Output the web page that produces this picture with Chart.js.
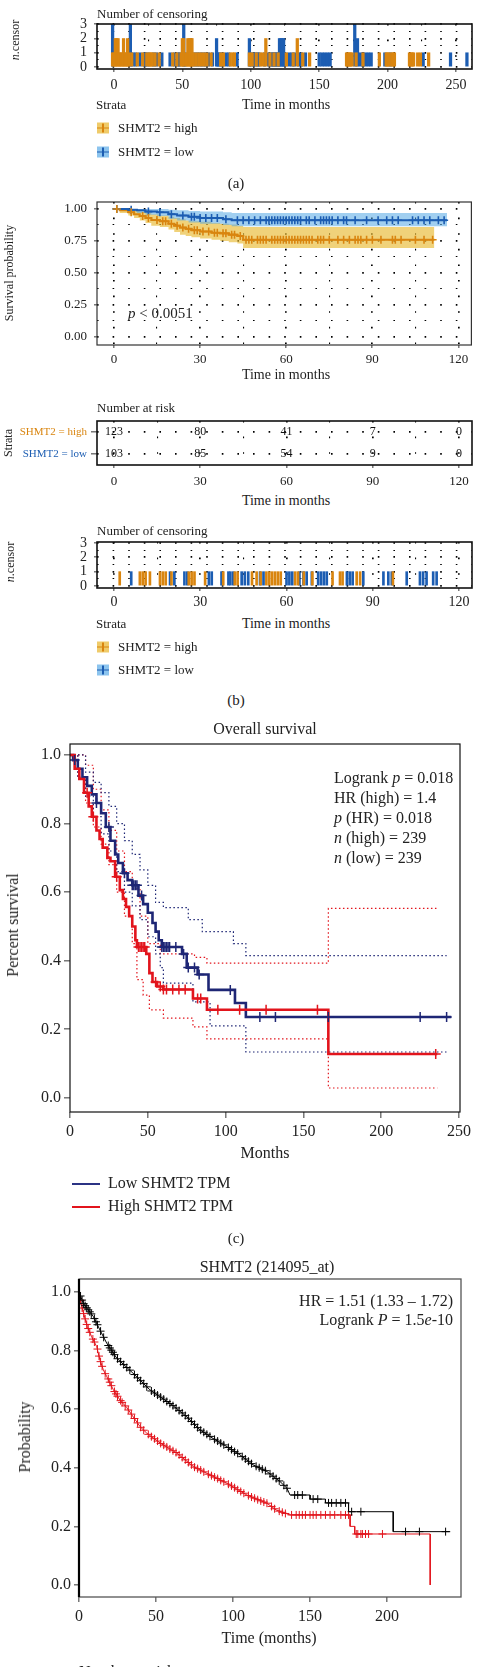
<!DOCTYPE html>
<html>
<head>
<meta charset="utf-8">
<script src="https://cdn.jsdelivr.net/npm/chart.js@4.4.1/dist/chart.umd.min.js"></script>
<style>
body { margin: 0; background: #fff; }
#page { position: relative; width: 477px; height: 1667px; overflow: hidden; font-family: 'Liberation Serif', 'DejaVu Serif', serif; color: #222; }
canvas { position: absolute; left: 0; }
.t { position: absolute; white-space: nowrap; transform: translateY(-50%); }
.c { transform: translate(-50%, -50%); }
.r { transform: translate(-100%, -50%); }
.v { transform: translate(-50%, -50%) rotate(-90deg); }
.sym { position: absolute; width: 12px; height: 11px; transform: translateY(-50%); }
.sym i { position: absolute; left: 0; right: 0; top: 4.5px; height: 1.6px; }
.sym b { position: absolute; left: 5px; width: 1.6px; top: 1px; bottom: 1px; }
.ln { position: absolute; height: 1.6px; width: 28px; }
</style>
</head>
<body>
<div id="page">
  <canvas id="cA"></canvas>
  <canvas id="c2"></canvas>
  <canvas id="c3"></canvas>
  <canvas id="cB"></canvas>
  <canvas id="c5"></canvas>
  <canvas id="c6"></canvas>

  <!-- (a) censoring -->
  <div class="t" style="left:97px;top:14px;font-size:13px">Number of censoring</div>
  <div class="t v" style="left:15px;top:40px;font-size:12px"><i>n</i>.censor</div>
  <div class="t" style="left:96px;top:105px;font-size:13px">Strata</div>
  <div class="t c" style="left:286px;top:105px;font-size:14px">Time in months</div>
  <div class="sym" style="left:97px;top:128px;background:#EFCB6A"><i style="background:#D9850F"></i><b style="background:#D9850F"></b></div>
  <div class="t" style="left:118px;top:128px;font-size:13px">SHMT2 = high</div>
  <div class="sym" style="left:97px;top:152px;background:#8CC4EE"><i style="background:#1C5DB2"></i><b style="background:#1C5DB2"></b></div>
  <div class="t" style="left:118px;top:152px;font-size:13px">SHMT2 = low</div>
  <div class="t c" style="left:236px;top:183px;font-size:15px">(a)</div>

  <!-- survival -->
  <div class="t v" style="left:9px;top:273px;font-size:12px">Survival probability</div>
  <div class="t" style="left:128px;top:313px;font-size:15px"><i>p</i> &lt; 0.0051</div>
  <div class="t c" style="left:286px;top:375px;font-size:14px">Time in months</div>

  <!-- number at risk -->
  <div class="t" style="left:97px;top:408px;font-size:13px">Number at risk</div>
  <div class="t v" style="left:8px;top:443px;font-size:12px">Strata</div>
  <div class="t c" style="left:286px;top:501px;font-size:14px">Time in months</div>

  <!-- (b) censoring -->
  <div class="t" style="left:97px;top:531px;font-size:13px">Number of censoring</div>
  <div class="t v" style="left:10px;top:562px;font-size:12px"><i>n</i>.censor</div>
  <div class="t" style="left:96px;top:624px;font-size:13px">Strata</div>
  <div class="t c" style="left:286px;top:624px;font-size:14px">Time in months</div>
  <div class="sym" style="left:97px;top:647px;background:#EFCB6A"><i style="background:#D9850F"></i><b style="background:#D9850F"></b></div>
  <div class="t" style="left:118px;top:647px;font-size:13px">SHMT2 = high</div>
  <div class="sym" style="left:97px;top:670px;background:#8CC4EE"><i style="background:#1C5DB2"></i><b style="background:#1C5DB2"></b></div>
  <div class="t" style="left:118px;top:670px;font-size:13px">SHMT2 = low</div>
  <div class="t c" style="left:236px;top:700px;font-size:15px">(b)</div>

  <!-- (c) overall survival -->
  <div class="t c" style="left:265px;top:729px;font-size:16px">Overall survival</div>
  <div class="t v" style="left:13px;top:925px;font-size:16px">Percent survival</div>
  <div class="t" style="left:334px;top:778px;font-size:16px">Logrank <i>p</i> = 0.018</div>
  <div class="t" style="left:334px;top:798px;font-size:16px">HR (high) = 1.4</div>
  <div class="t" style="left:334px;top:818px;font-size:16px"><i>p</i> (HR) = 0.018</div>
  <div class="t" style="left:334px;top:838px;font-size:16px"><i>n</i> (high) = 239</div>
  <div class="t" style="left:334px;top:858px;font-size:16px"><i>n</i> (low) = 239</div>
  <div class="t c" style="left:265px;top:1153px;font-size:16px">Months</div>
  <div class="ln" style="left:72px;top:1183px;background:#2B3384"></div>
  <div class="t" style="left:108px;top:1183px;font-size:16px">Low SHMT2 TPM</div>
  <div class="ln" style="left:72px;top:1206px;background:#E2141C"></div>
  <div class="t" style="left:108px;top:1206px;font-size:16px">High SHMT2 TPM</div>
  <div class="t c" style="left:236px;top:1238px;font-size:15px">(c)</div>

  <!-- (d) KM plotter -->
  <div class="t c" style="left:267px;top:1267px;font-size:16px">SHMT2 (214095_at)</div>
  <div class="t v" style="left:25px;top:1437px;font-size:16px">Probability</div>
  <div class="t r" style="left:453px;top:1301px;font-size:16px">HR = 1.51 (1.33 – 1.72)</div>
  <div class="t r" style="left:453px;top:1320px;font-size:16px">Logrank <i>P</i> = 1.5<i>e</i>-10</div>
  <div class="t c" style="left:269px;top:1638px;font-size:16px">Time (months)</div>
  <div class="t" style="left:79px;top:1672px;font-size:16px">Number at risk</div>
</div>

<script>
// ---------- data ----------
// (a) number of censoring, [month, count]
const censAHigh = [[-1,1],[0,1],[1,2],[2,2],[3,2],[4,1],[5,1],[6,1],[7,2],[8,1],[9,1],[10,2],[11,1],[13,1],[17,1],[21,1],[24,1],[26,1],[27,1],[28,1],[30,1],[33,1],[43,1],[46,1],[49,1],[50,2],[51,2],[53,1],[54,2],[55,2],[56,2],[57,2],[58,1],[60,1],[62,1],[64,1],[66,1],[68,1],[71,1],[78,1],[80,1],[85,1],[87,1],[88,1],[99,1],[101,1],[104,1],[107,1],[109,1],[111,2],[114,1],[117,1],[120,1],[126,1],[131,1],[134,2],[138,1],[143,1],[170,1],[171,1],[172,1],[173,1],[174,1],[177,1],[182,1],[194,1],[199,1],[200,1],[201,1],[203,1],[204,1],[205,1],[216,1],[217,1],[218,1],[219,1],[222,1],[224,1],[230,1]];
const censALow = [[-1,3],[12,3],[14,1],[16,1],[19,1],[22,1],[23,1],[25,1],[29,1],[31,1],[35,1],[41,1],[44,1],[47,1],[48,1],[51,3],[52,1],[59,1],[61,1],[63,1],[65,1],[67,1],[69,1],[72,1],[75,2],[76,1],[77,1],[79,1],[82,1],[84,1],[90,1],[99,2],[100,1],[102,1],[103,1],[105,1],[106,1],[110,1],[113,1],[115,1],[116,1],[117,1],[118,1],[119,1],[120,1],[121,2],[122,2],[123,2],[124,2],[125,1],[128,1],[130,1],[132,1],[135,1],[137,1],[140,1],[150,1],[152,1],[154,1],[156,1],[158,1],[176,3],[178,2],[180,1],[182,1],[184,1],[186,1],[188,1],[198,1],[202,1],[226,1],[246,1],[258,1]];

// survival curves (step points) with confidence band
const kmHighT  = [0, 2, 5, 7, 9, 11, 13, 16, 19, 21, 23, 25, 27, 30, 34, 37, 40, 43, 45, 111.6];
const kmHighS  = [1, 0.99, 0.975, 0.96, 0.945, 0.93, 0.915, 0.905, 0.885, 0.87, 0.855, 0.845, 0.835, 0.825, 0.815, 0.81, 0.8, 0.79, 0.76, 0.76];
const kmHighUp = [1, 1, 1, 0.99, 0.98, 0.97, 0.96, 0.95, 0.94, 0.93, 0.92, 0.91, 0.905, 0.9, 0.89, 0.885, 0.88, 0.87, 0.86, 0.86];
const kmHighLo = [1, 0.97, 0.95, 0.93, 0.91, 0.89, 0.87, 0.86, 0.84, 0.82, 0.8, 0.79, 0.78, 0.77, 0.76, 0.75, 0.74, 0.73, 0.695, 0.695];
const kmLowT  = [0, 5, 8, 11, 15, 19, 22, 26, 30, 38, 41, 116];
const kmLowS  = [1, 0.995, 0.99, 0.98, 0.975, 0.96, 0.95, 0.94, 0.93, 0.92, 0.912, 0.912];
const kmLowUp = [1, 1, 1, 1, 1, 0.995, 0.99, 0.985, 0.98, 0.975, 0.97, 0.97];
const kmLowLo = [1, 0.98, 0.97, 0.955, 0.945, 0.925, 0.91, 0.895, 0.885, 0.875, 0.865, 0.865];
const kmHighCens = [[1,1],[6,0.975],[10,0.945],[12,0.93],[15,0.915],[17,0.905],[18,0.905],[20,0.885],[22,0.87],[24,0.855],[26,0.845],[28,0.835],[29,0.835],[31,0.825],[33,0.825],[35,0.815],[36,0.815],[38,0.81],[39,0.81],[41,0.8],[42,0.8],[44,0.79],[46,0.76],[47,0.76],[48,0.76],[50,0.76],[51,0.76],[52,0.76],[53,0.76],[55,0.76],[56,0.76],[57,0.76],[58,0.76],[59,0.76],[60,0.76],[61,0.76],[62,0.76],[63,0.76],[64,0.76],[65,0.76],[66,0.76],[67,0.76],[68,0.76],[69,0.76],[71,0.76],[72,0.76],[73,0.76],[75,0.76],[78,0.76],[80,0.76],[82,0.76],[84,0.76],[85,0.76],[86,0.76],[88,0.76],[90,0.76],[93,0.76],[97,0.76],[98,0.76],[100,0.76],[105,0.76],[108,0.76],[111,0.76]];
const kmLowCens = [[1,1],[6,0.995],[12,0.98],[16,0.975],[20,0.96],[24,0.95],[27,0.94],[28,0.94],[30,0.93],[32,0.93],[34,0.93],[36,0.93],[39,0.92],[43,0.912],[45,0.912],[47,0.912],[49,0.912],[51,0.912],[53,0.912],[54,0.912],[55,0.912],[56,0.912],[57,0.912],[58,0.912],[59,0.912],[60,0.912],[61,0.912],[62,0.912],[63,0.912],[64,0.912],[65,0.912],[67,0.912],[68,0.912],[70,0.912],[72,0.912],[73,0.912],[74,0.912],[75,0.912],[76,0.912],[78,0.912],[80,0.912],[81,0.912],[84,0.912],[88,0.912],[92,0.912],[95,0.912],[97,0.912],[99,0.912],[104,0.912],[106,0.912],[108,0.912],[110,0.912],[113,0.912],[115,0.912]];

// number at risk
const strata = ['SHMT2 = high', 'SHMT2 = low'];
const riskTimes = [0, 30, 60, 90, 120];
const riskHigh = [123, 80, 41, 7, 0];
const riskLow = [103, 85, 54, 9, 0];

// (b) number of censoring
const censBHigh = [[2,1],[9,1],[10,1],[11,1],[12.5,1],[16,1],[17,1],[18,1],[20,1],[26,1],[27,1],[28,1],[31.7,1],[38,1],[42,1],[43,1],[48,1],[49.6,1],[51,1],[53,1],[54,1],[55,1],[56,1],[57,1],[58,1],[63,1],[64,1],[66,1],[69,1],[76,1],[78.6,1],[79.5,1],[84.4,1],[85.6,1],[97,1]];
const censBLow = [[6,1],[19.5,1],[21,1],[24.5,1],[25.5,1],[33,1],[34,1],[37.4,1],[39.8,1],[40.5,1],[41.5,1],[44.4,1],[45.5,1],[46.7,1],[50.8,1],[52,1],[60,1],[61,1],[62,1],[64.5,1],[65.9,1],[67,1],[68.8,1],[71,1],[72,1],[73,1],[74,1],[81,1],[82,1],[83,1],[86.7,1],[93.7,1],[95.4,1],[96.6,1],[101.8,1],[106.4,1],[107.5,1],[108.7,1],[111,1],[112.2,1]];

// (c) overall survival
const osLowT = [0, 2, 5, 8, 11, 14, 17, 20, 23, 26, 29, 31, 34, 37, 40, 44, 47, 50, 53, 55, 57, 59, 72, 75, 82, 89, 106, 113, 245];
const osLowS = [1, 0.985, 0.96, 0.935, 0.91, 0.885, 0.86, 0.83, 0.79, 0.75, 0.71, 0.685, 0.655, 0.635, 0.62, 0.59, 0.565, 0.54, 0.51, 0.485, 0.46, 0.44, 0.42, 0.38, 0.36, 0.315, 0.277, 0.236, 0.236];
const osHighT = [0, 3, 6, 9, 12, 14, 17, 19, 21, 24, 26, 29, 32, 34, 36, 38, 40, 42, 43, 49, 51, 53, 56, 60, 79, 88, 166, 236];
const osHighS = [1, 0.96, 0.93, 0.89, 0.85, 0.82, 0.78, 0.755, 0.73, 0.7, 0.69, 0.645, 0.606, 0.58, 0.557, 0.53, 0.5, 0.46, 0.44, 0.42, 0.364, 0.338, 0.325, 0.316, 0.29, 0.257, 0.128, 0.128];
const osLowUpT = [0, 5, 10, 15, 20, 25, 30, 35, 40, 45, 50, 55, 60, 76, 85, 105, 113, 242];
const osLowUpS = [1, 1, 0.95, 0.92, 0.89, 0.85, 0.8, 0.75, 0.71, 0.665, 0.62, 0.57, 0.555, 0.52, 0.485, 0.45, 0.415, 0.415];
const osLowLoT = [0, 5, 10, 15, 20, 25, 30, 35, 40, 45, 50, 55, 58, 60, 79, 90, 113, 242];
const osLowLoS = [1, 0.93, 0.88, 0.82, 0.77, 0.72, 0.66, 0.6, 0.56, 0.52, 0.47, 0.42, 0.38, 0.335, 0.28, 0.21, 0.134, 0.134];
const osHighUpT = [0, 5, 10, 15, 20, 25, 30, 35, 40, 45, 50, 58, 80, 88, 166, 236];
const osHighUpS = [1, 1, 0.97, 0.9, 0.84, 0.78, 0.72, 0.66, 0.61, 0.53, 0.45, 0.42, 0.41, 0.393, 0.553, 0.553];
const osHighLoT = [0, 5, 10, 15, 20, 25, 30, 35, 40, 43, 47, 51, 60, 79, 88, 166, 236];
const osHighLoS = [1, 0.935, 0.86, 0.79, 0.74, 0.68, 0.6, 0.53, 0.45, 0.345, 0.3, 0.257, 0.233, 0.207, 0.172, 0.029, 0.029];
const osLowCens = [[3,0.985],[17,0.86],[25,0.79],[35,0.655],[40,0.62],[41,0.62],[42,0.62],[43,0.62],[46,0.59],[59,0.44],[60,0.44],[61,0.44],[62,0.44],[63,0.44],[64,0.44],[68,0.44],[73,0.42],[76,0.38],[80,0.38],[83,0.36],[103,0.315],[122,0.236],[132,0.236],[166,0.236],[225,0.236],[242,0.236]];
const osHighCens = [[11,0.89],[15,0.82],[30,0.645],[44,0.44],[45,0.44],[46,0.44],[47,0.44],[48,0.44],[55,0.338],[58,0.325],[60,0.316],[62,0.316],[66,0.316],[70,0.316],[74,0.316],[82,0.29],[84,0.29],[95,0.257],[109,0.257],[126,0.257],[159,0.257],[235,0.128]];
const osTicksX = [0, 50, 100, 150, 200, 250];

// (d) SHMT2 (214095_at)
const kmpLowT = [0, 2.8, 9.3, 13.6, 18, 24.5, 35, 46, 61, 70, 78.6, 87, 96, 104.5, 113, 122, 130.5, 135, 137, 150, 150, 160, 160, 175, 175, 204, 204, 241];
const kmpLowS = [1, 0.961, 0.916, 0.87, 0.825, 0.774, 0.723, 0.666, 0.612, 0.574, 0.529, 0.5, 0.472, 0.444, 0.41, 0.387, 0.353, 0.33, 0.307, 0.307, 0.293, 0.293, 0.28, 0.28, 0.25, 0.25, 0.182, 0.182];
const kmpHighT = [0, 1.7, 5.4, 8.2, 11.5, 13.6, 15.8, 18, 22.3, 26.6, 31, 39.7, 44, 52.8, 63.5, 74.3, 83, 96, 109, 122, 128, 137, 176, 176, 179, 179, 228, 228];
const kmpHighS = [1, 0.95, 0.882, 0.847, 0.813, 0.768, 0.734, 0.711, 0.666, 0.631, 0.605, 0.54, 0.518, 0.484, 0.45, 0.404, 0.381, 0.347, 0.307, 0.279, 0.256, 0.239, 0.239, 0.2, 0.2, 0.174, 0.174, 0];
const kmpLowCens = [[1,0.986],[2,0.972],[3,0.96],[4,0.953],[5,0.946],[6,0.939],[7,0.932],[8,0.925],[10,0.909],[11,0.898],[12,0.888],[14,0.866],[16,0.845],[19,0.817],[20,0.809],[21,0.801],[22,0.794],[23,0.786],[25,0.772],[27,0.762],[29,0.752],[31,0.742],[33,0.733],[36,0.718],[38,0.707],[40,0.697],[42,0.687],[44,0.676],[47,0.662],[49,0.655],[51,0.648],[53,0.641],[55,0.634],[57,0.626],[59,0.619],[61,0.612],[63,0.604],[65,0.595],[67,0.587],[69,0.578],[71,0.569],[73,0.558],[75,0.548],[77,0.537],[79,0.528],[81,0.521],[83,0.514],[85,0.507],[88,0.497],[90,0.491],[92,0.484],[94,0.478],[97,0.469],[99,0.462],[101,0.455],[103,0.449],[106,0.438],[108,0.43],[110,0.422],[112,0.414],[115,0.405],[117,0.4],[119,0.395],[121,0.39],[124,0.379],[126,0.371],[128,0.363],[130,0.355],[133,0.34],[135,0.33],[140,0.307],[142,0.307],[145,0.307],[152,0.293],[155,0.293],[162,0.28],[164,0.28],[167,0.28],[170,0.28],[173,0.28],[177,0.25],[183,0.25],[212,0.182],[221,0.182],[238,0.182]];
const kmpHighCens = [[1,0.971],[2,0.945],[3,0.926],[4,0.908],[5,0.889],[6,0.875],[7,0.862],[9,0.839],[10,0.829],[12,0.805],[13,0.781],[14,0.762],[15,0.746],[17,0.721],[19,0.703],[20,0.692],[21,0.68],[23,0.66],[24,0.652],[25,0.644],[27,0.629],[28,0.623],[30,0.611],[32,0.597],[34,0.583],[36,0.568],[38,0.553],[40,0.538],[42,0.528],[45,0.514],[47,0.506],[49,0.499],[51,0.491],[53,0.483],[55,0.477],[57,0.471],[59,0.464],[61,0.458],[63,0.452],[65,0.444],[67,0.435],[69,0.427],[71,0.418],[73,0.41],[75,0.402],[77,0.397],[79,0.392],[81,0.386],[84,0.378],[86,0.373],[88,0.368],[90,0.363],[92,0.357],[94,0.352],[97,0.344],[99,0.338],[101,0.332],[103,0.325],[105,0.319],[107,0.313],[110,0.305],[112,0.3],[114,0.296],[116,0.291],[118,0.287],[120,0.283],[122,0.279],[125,0.268],[127,0.26],[130,0.252],[132,0.248],[134,0.244],[138,0.239],[141,0.239],[143,0.239],[145,0.239],[147,0.239],[150,0.239],[152,0.239],[154,0.239],[157,0.239],[160,0.239],[163,0.239],[166,0.239],[170,0.239],[173,0.239],[175,0.239],[180,0.174],[181,0.174],[183,0.174],[184,0.174],[186,0.174],[188,0.174],[197,0.174]];
const kmpTicksX = [0, 50, 100, 150, 200];

// ---------- styling ----------
const FONT = "'Liberation Serif', 'DejaVu Serif', serif";
const W = 477;
const ORANGE = '#D9850F', BLUE = '#1C5DB2';
const ORANGE_BAND = 'rgba(232,186,50,0.65)', BLUE_BAND = 'rgba(84,168,228,0.55)';
const NAVY = '#1E2675', RED = '#E2141C';
const DOTS = [1.6, 14];

Chart.defaults.font.family = FONT;

function pairs(xs, ys) { return xs.map((x, i) => ({ x: x, y: ys[i] })); }
function pts(list) { return list.map(p => ({ x: p[0], y: p[1] })); }
function near(v, m) { return Math.abs(v / m - Math.round(v / m)) < 1e-6; }

// axis whose box size is fixed so the plot area lands where the reference has it
function axis(o) {
    const horiz = o.pos === 'bottom';
    const isMajor = c => !o.major || (c.tick && near(c.tick.value, o.major));
    const a = {
        type: o.type || 'linear',
        position: o.pos,
        offset: o.type === 'category',
        afterFit: s => {
            if (horiz) { s.height = o.size; s.paddingLeft = 0; s.paddingRight = 0; }
            else { s.width = o.size; s.paddingTop = 0; s.paddingBottom = 0; }
        },
        border: { display: false, dash: o.dash || [] },
        grid: {
            drawOnChartArea: !!o.dash,
            offset: false,
            color: '#000',
            lineWidth: c => isMajor(c) ? 1.7 : 1.1,
            tickLength: o.tick,
            tickWidth: 1,
            tickColor: c => isMajor(c) ? '#333' : 'rgba(0,0,0,0)'
        },
        ticks: {
            autoSkip: false, maxRotation: 0, minRotation: 0,
            padding: o.pad, color: o.color || '#222',
            font: { family: FONT, size: o.font }
        }
    };
    if (o.type === 'category') { a.labels = o.labels; }
    else {
        a.min = o.min; a.max = o.max;
        a.ticks.stepSize = o.step;
        a.ticks.includeBounds = false;
    }
    if (o.values) a.afterBuildTicks = s => { s.ticks = o.values.map(v => ({ value: v })); };
    if (o.fmt) a.ticks.callback = o.fmt;
    return a;
}

function frame(color, width, leftColor, leftWidth) {
    return {
        id: 'frame',
        afterDatasetsDraw(chart) {
            const a = chart.chartArea, c = chart.ctx;
            c.save();
            c.strokeStyle = color; c.lineWidth = width;
            c.strokeRect(a.left, a.top, a.right - a.left, a.bottom - a.top);
            if (leftColor) {
                c.strokeStyle = leftColor; c.lineWidth = leftWidth;
                c.beginPath(); c.moveTo(a.left, a.top); c.lineTo(a.left, a.bottom); c.stroke();
            }
            c.restore();
        }
    };
}

function make(id, top, height, plot, type, datasets, xo, yo, plugins) {
    const cv = document.getElementById(id);
    cv.width = W; cv.height = height;
    cv.style.top = top + 'px';
    xo.pos = 'bottom'; xo.size = top + height - plot.b;
    yo.pos = 'left'; yo.size = plot.l;
    return new Chart(cv, {
        type: type,
        data: { datasets: datasets },
        options: {
            responsive: false, animation: false, events: [],
            layout: { padding: { top: plot.t - top, right: W - plot.r, left: 0, bottom: 0 } },
            plugins: { legend: { display: false }, tooltip: { enabled: false } },
            scales: { x: axis(xo), y: axis(yo) }
        },
        plugins: plugins || []
    });
}

function bars(list, color, width) {
    return { data: pts(list), backgroundColor: color, borderWidth: 0, barThickness: width, grouped: false };
}
function curve(xs, ys, color, width, order, stepped) {
    return { data: pairs(xs, ys), borderColor: color, borderWidth: width, pointRadius: 0, stepped: stepped, fill: false, order: order };
}
function dotted(xs, ys, color) {
    return { data: pairs(xs, ys), borderColor: color, borderWidth: 1.2, borderDash: [1.5, 2.5], pointRadius: 0, stepped: true, fill: false, order: 3 };
}
function marks(list, color, r, w) {
    return { data: pts(list), showLine: false, pointStyle: 'cross', pointRadius: r, pointBorderWidth: w, pointBorderColor: color, borderColor: color, order: 0 };
}
function band(xs, up, lo, color, order) {
    return [
        { data: pairs(xs, up), borderColor: 'rgba(0,0,0,0)', pointRadius: 0, stepped: true, fill: false, order: order },
        { data: pairs(xs, lo), borderColor: 'rgba(0,0,0,0)', pointRadius: 0, stepped: true, fill: '-1', backgroundColor: color, order: order }
    ];
}

// ---------- (a) number of censoring ----------
make('cA', 8, 90, { l: 97, t: 24, r: 472, b: 69 }, 'bar',
    [bars(censAHigh, ORANGE, 2.6), bars(censALow, BLUE, 2.6)],
    { min: -12.4, max: 261.7, step: 25, major: 50, dash: DOTS, tick: 3, pad: 5, font: 14, fmt: v => near(v, 50) ? v : '' },
    { min: -0.14, max: 3.02, step: 0.5, major: 1, dash: DOTS, tick: 3, pad: 7, font: 14, fmt: v => near(v, 1) ? v : '' },
    [frame('#111', 1.6)]);

// ---------- survival probability ----------
make('c2', 190, 182, { l: 97, t: 202, r: 472, b: 345 }, 'line',
    band(kmHighT, kmHighUp, kmHighLo, ORANGE_BAND, 6)
        .concat(band(kmLowT, kmLowUp, kmLowLo, BLUE_BAND, 5))
        .concat([curve(kmHighT, kmHighS, ORANGE, 2, 2, true), curve(kmLowT, kmLowS, BLUE, 2, 1, true),
                 marks(kmHighCens, ORANGE, 4, 1.6), marks(kmLowCens, BLUE, 4, 1.6)]),
    { min: -5.9, max: 124.5, step: 15, major: 30, dash: DOTS, tick: 3, pad: 4, font: 13, fmt: v => near(v, 30) ? v : '' },
    { min: -0.0625, max: 1.055, step: 0.125, major: 0.25, dash: DOTS, tick: 3, pad: 7, font: 13, fmt: v => near(v, 0.25) ? v.toFixed(2) : '' },
    [frame('#333', 1.2)]);

// ---------- number at risk ----------
const riskText = {
    id: 'riskText',
    afterDatasetsDraw(chart) {
        const ctx = chart.ctx;
        ctx.save();
        ctx.font = '12px ' + FONT;
        ctx.fillStyle = '#111';
        ctx.textAlign = 'center';
        ctx.textBaseline = 'middle';
        chart.data.datasets.forEach((ds, di) => {
            chart.getDatasetMeta(di).data.forEach((el, i) => ctx.fillText(String(ds.counts[i]), el.x, el.y));
        });
        ctx.restore();
    }
};
make('c3', 410, 82, { l: 97, t: 421, r: 472, b: 465 }, 'line',
    [
        { data: riskTimes.map(t => ({ x: t, y: strata[0] })), counts: riskHigh, showLine: false, pointRadius: 0 },
        { data: riskTimes.map(t => ({ x: t, y: strata[1] })), counts: riskLow, showLine: false, pointRadius: 0 }
    ],
    { min: -5.9, max: 124.5, step: 15, major: 30, dash: DOTS, tick: 3, pad: 6, font: 13, fmt: v => near(v, 30) ? v : '' },
    { type: 'category', labels: strata, dash: DOTS, tick: 6, pad: 4, font: 11, color: c => c.index === 0 ? ORANGE : BLUE },
    [frame('#111', 1.6), riskText]);

// ---------- (b) number of censoring ----------
make('cB', 532, 80, { l: 97, t: 542, r: 472, b: 588 }, 'bar',
    [bars(censBHigh, ORANGE, 2), bars(censBLow, BLUE, 2)],
    { min: -5.9, max: 124.5, step: 15, major: 30, dash: DOTS, tick: 3, pad: 3, font: 14, fmt: v => near(v, 30) ? v : '' },
    { min: -0.14, max: 3.07, step: 0.5, major: 1, dash: DOTS, tick: 3, pad: 7, font: 14, fmt: v => near(v, 1) ? v : '' },
    [frame('#111', 1.6)]);

// ---------- (c) overall survival ----------
make('c5', 735, 410, { l: 70, t: 744, r: 460, b: 1112 }, 'line',
    [
        dotted(osLowUpT, osLowUpS, NAVY), dotted(osLowLoT, osLowLoS, NAVY),
        dotted(osHighUpT, osHighUpS, RED), dotted(osHighLoT, osHighLoS, RED),
        curve(osLowT, osLowS, NAVY, 2.6, 2, true), curve(osHighT, osHighS, RED, 2.6, 1, true),
        marks(osLowCens, NAVY, 5, 1.5), marks(osHighCens, RED, 5, 1.5)
    ],
    { min: 0, max: 250.6, step: 50, values: osTicksX, tick: 6, pad: 4, font: 16 },
    { min: -0.041, max: 1.032, step: 0.2, tick: 6, pad: 3, font: 16, fmt: v => v.toFixed(1) },
    [frame('#111', 1.2)]);

// ---------- (d) SHMT2 (214095_at) ----------
make('c6', 1270, 362, { l: 79, t: 1279, r: 461, b: 1597 }, 'line',
    [
        curve(kmpLowT, kmpLowS, '#000', 1, 2, false), curve(kmpHighT, kmpHighS, RED, 1, 1, false),
        marks(kmpLowCens, '#000', 4, 1), marks(kmpHighCens, RED, 4, 1)
    ],
    { min: 0, max: 248, step: 50, values: kmpTicksX, tick: 5, pad: 5, font: 16 },
    { min: -0.041, max: 1.044, step: 0.2, tick: 5, pad: 3, font: 16, fmt: v => v.toFixed(1) },
    [frame('#555', 1.3, '#000', 2.2)]);
</script>
</body>
</html>
